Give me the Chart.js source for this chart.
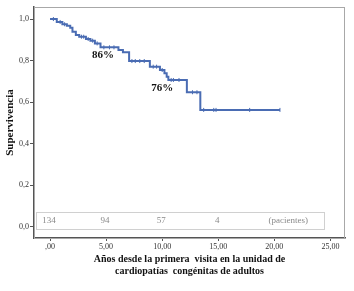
<!DOCTYPE html>
<html><head><meta charset="utf-8">
<script src="https://cdn.jsdelivr.net/npm/chart.js@4/dist/chart.umd.min.js"></script>
<style>html,body{margin:0;padding:0;background:#fff}#wrap{width:354px;height:291px}</style>
</head><body><div id="wrap"><canvas id="c" width="354" height="291"></canvas></div>
<script>
// Kaplan-Meier step data (years, survival)
const kmTimes = [0, 0.6, 1.1, 1.5, 1.8, 2.0, 2.3, 2.6, 3.2, 3.6, 4.0, 4.5, 6.1, 6.5, 7.05, 8.9, 9.8, 10.2, 10.4, 10.55, 12.2, 13.4, 20.5];
const kmSurv  = [1.0, 0.986, 0.975, 0.968, 0.958, 0.939, 0.923, 0.915, 0.904, 0.896, 0.883, 0.864, 0.851, 0.840, 0.798, 0.771, 0.755, 0.739, 0.723, 0.707, 0.648, 0.563, 0.563];
// censored observations (years)
const censorTimes = [0.3, 0.9, 1.3, 2.8, 3.0, 3.4, 3.8, 4.2, 4.8, 5.3, 5.7, 7.3, 7.6, 8.0, 8.4, 9.2, 9.5, 10.0, 10.8, 11.0, 11.5, 12.7, 13.1, 13.7, 14.6, 14.8, 17.8, 20.5];
// patients at risk
const riskTimes = [0, 5, 10, 15];
const riskCounts = [134, 94, 57, 4];
const xTicks = [0, 5, 10, 15, 20, 25];
const yTicks = [0, 0.2, 0.4, 0.6, 0.8, 1.0];
const pctLabels = [{t: 4.73, s: 0.827, text: '86%'}, {t: 10.0, s: 0.668, text: '76%'}];

function survAt(t){ let s = kmSurv[0]; for (let i=0;i<kmTimes.length;i++){ if (kmTimes[i] <= t) s = kmSurv[i]; } return s; }

const blue = '#4a6cb3';
const serif = '"Liberation Serif", "Times New Roman", serif';

const overlay = {
  id: 'overlay',
  beforeDatasetsDraw(chart){
    const {ctx, chartArea: a, scales: {x, y}} = chart;
    ctx.save();
    ctx.strokeStyle = '#a8a8a8'; ctx.lineWidth = 1;
    ctx.strokeRect(a.left + 0.5, a.top + 0.5, a.right - a.left - 1, a.bottom - a.top);
    const bl = a.left + 2, br = x.getPixelForValue(24.4);
    const bt = y.getPixelForValue(0.072), bb = y.getPixelForValue(-0.01);
    ctx.strokeStyle = '#d0d0d0';
    ctx.strokeRect(Math.round(bl)+0.5, Math.round(bt)+0.5, Math.round(br-bl), Math.round(bb-bt));
    ctx.fillStyle = '#8a8a8a'; ctx.font = '9px ' + serif;
    ctx.textAlign = 'center'; ctx.textBaseline = 'middle';
    const ty = (bt + bb) / 2;
    riskTimes.forEach((t, i) => ctx.fillText(String(riskCounts[i]), x.getPixelForValue(t) - 1, ty));
    ctx.fillText('(pacientes)', x.getPixelForValue(21.25), ty);
    ctx.restore();
  },
  afterDatasetsDraw(chart){
    const {ctx, scales: {x, y}} = chart;
    ctx.save();
    ctx.fillStyle = '#111'; ctx.font = 'bold 11px ' + serif;
    ctx.textAlign = 'center'; ctx.textBaseline = 'middle';
    pctLabels.forEach(p => ctx.fillText(p.text, x.getPixelForValue(p.t), y.getPixelForValue(p.s)));
    ctx.restore();
  }
};

new Chart(document.getElementById('c'), {
  type: 'line',
  data: {
    datasets: [
      {
        data: kmTimes.map((t, i) => ({x: t, y: kmSurv[i]})),
        stepped: 'before', borderColor: blue, borderWidth: 2, pointRadius: 0, fill: false
      },
      {
        type: 'scatter',
        data: censorTimes.map(t => ({x: t, y: survAt(t)})),
        pointStyle: 'line', rotation: 90, radius: 2, borderColor: blue, borderWidth: 1, backgroundColor: blue
      }
    ]
  },
  plugins: [overlay],
  options: {
    responsive: false, animation: false, devicePixelRatio: 1,
    layout: {padding: {left: 0, right: 9, top: 7, bottom: 0}},
    plugins: {legend: {display: false}, tooltip: {enabled: false}},
    scales: {
      x: {
        type: 'linear', min: -1.43, max: 26.3,
        afterBuildTicks: s => { s.ticks = xTicks.map(v => ({value: v})); },
        afterFit: s => { s.height = 53; },
        grid: {display: true, drawOnChartArea: false, drawTicks: true, tickLength: 3, color: '#555', tickColor: '#555'},
        border: {display: true, color: '#555', width: 1.5},
        ticks: {padding: 1, color: '#333', font: {family: serif, size: 8}, maxRotation: 0,
          callback: v => v === 0 ? ',00' : v.toFixed(2).replace('.', ',')},
        title: {display: true, text: ['Años desde la primera  visita en la unidad de', 'cardiopatías  congénitas de adultos'],
          color: '#111', font: {family: serif, size: 10, weight: 'bold', lineHeight: 1.2}, padding: {top: 0, bottom: 14}}
      },
      y: {
        type: 'linear', min: -0.053, max: 1.058,
        afterBuildTicks: s => { s.ticks = yTicks.map(v => ({value: v})); },
        afterFit: s => { s.width = 34; },
        grid: {display: true, drawOnChartArea: false, drawTicks: true, tickLength: 4, color: '#555', tickColor: '#555'},
        border: {display: true, color: '#555', width: 1.5},
        ticks: {padding: 1, color: '#333', font: {family: serif, size: 8},
          callback: v => v.toFixed(1).replace('.', ',')},
        title: {display: true, text: 'Supervivencia', color: '#111',
          font: {family: serif, size: 11, weight: 'bold', lineHeight: 1.2}, padding: {top: 3.4, bottom: 0}}
      }
    }
  }
});
</script>
</body></html>
